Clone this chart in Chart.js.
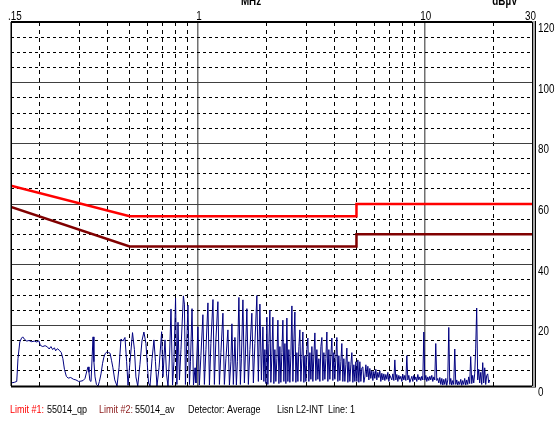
<!DOCTYPE html>
<html>
<head>
<meta charset="utf-8">
<script src="https://cdn.jsdelivr.net/npm/chart.js@4.4.1/dist/chart.umd.min.js"></script>
<style>
html,body{margin:0;padding:0;background:#fff;}
#wrap{width:557px;height:421px;position:relative;}
</style>
</head>
<body>
<div id="wrap"><canvas id="c" width="557" height="421"></canvas></div>
<script>
// ---- DATA ----
const xTickValues = [0.15,0.2,0.3,0.4,0.5,0.6,0.7,0.8,0.9,1,2,3,4,5,6,7,8,9,10,20,30];
const xTickLabels = {0.15:'.15', 1:'1', 10:'10', 30:'30'};
const yTickLabels = [0,20,40,60,80,100,120];

const qpFreq  = [0.15, 0.5, 5, 5, 30];
const qpLevel = [66, 56, 56, 60, 60];
const avFreq  = [0.15, 0.5, 5, 5, 30];
const avLevel = [59, 46, 46, 50, 50];

const specFreq = [
0.150,0.155,0.159,0.161,0.164,0.167,0.169,0.172,0.176,0.180,0.185,0.190,0.195,0.199,
0.202,0.207,0.212,0.217,0.221,0.225,0.229,0.233,0.236,0.240,0.245,0.250,0.254,0.258,
0.263,0.268,0.275,0.283,0.290,0.298,0.305,0.312,0.318,0.324,0.328,0.331,0.334,0.338,
0.342,0.345,0.348,0.352,0.357,0.363,0.368,0.374,0.380,0.385,0.391,0.397,0.404,0.410,
0.416,0.422,0.430,0.440,
0.449,0.458,0.467,0.477,0.485,0.492,0.502,0.515,0.525,0.533,0.543,0.555,0.567,0.578,
0.590,0.606,0.615,0.628,0.640,0.650,0.660,0.674,0.692,0.701,0.716,0.727,0.738,0.750,
0.761,0.773,0.784,0.797,0.808,0.817,0.829,0.842,0.863,0.872,0.881,
0.886,0.904,0.918,0.927,0.942,0.956,0.971,0.980,1.000,1.015,1.031,1.052,1.068,1.085,
1.107,1.124,1.141,1.165,1.182,1.200,1.225,1.244,1.263,1.289,1.308,1.329,1.356,1.377,
1.398,1.412,1.433,1.456,1.478,1.493,1.516,1.539,1.555,1.579,1.603,1.619,1.644,1.669,
1.695,1.729,1.756,1.783,1.819,1.847,1.876,1.905,1.934,1.953,
1.973,1.994,2.014,2.034,2.055,2.076,2.097,2.119,2.140,2.162,2.184,2.206,2.229,2.252,
2.275,2.298,2.321,2.345,2.369,2.393,2.418,2.442,2.467,2.492,2.518,2.543,2.569,2.596,
2.622,2.649,2.676,2.703,2.731,2.759,2.787,2.815,2.844,2.873,2.902,2.932,2.962,2.992,
3.022,3.053,3.084,3.116,3.148,3.180,3.212,3.245,3.278,3.311,3.345,3.379,3.414,3.449,
3.484,3.519,3.555,3.591,3.628,3.665,3.702,3.740,3.778,3.817,3.855,3.895,3.934,3.974,
4.015,4.056,4.097,4.139,4.181,4.224,4.267,4.310,4.354,4.399,4.444,4.489,4.535,4.581,
4.628,4.675,4.723,4.771,4.820,4.869,4.919,4.969,5.019,5.071,5.122,5.175,5.227,5.281,
5.335,5.389,
5.444,5.500,5.556,5.612,5.669,5.727,5.785,5.844,5.904,5.964,6.025,6.086,6.148,6.211,
6.274,6.338,6.403,6.468,6.534,6.601,6.668,6.736,6.805,6.874,6.944,7.015,7.159,7.232,
7.306,7.380,7.456,7.532,7.608,7.686,7.764,7.844,7.924,8.004,8.086,8.168,8.252,8.336,
8.421,8.507,8.593,8.770,8.859,8.950,9.041,9.133,9.226,9.320,9.415,9.511,9.608,9.706,
9.805,9.905,10.006,10.11,10.21,10.31,10.42,10.53,10.63,10.74,10.85,10.96,11.07,11.18,
11.30,11.41,11.53,11.65,11.77,11.89,12.01,12.13,12.25,12.38,12.50,12.63,12.76,12.89,
13.02,13.15,13.29,13.42,13.56,13.70,13.84,13.98,14.12,14.26,14.41,14.56,14.70,14.85,
15.00,15.16,15.31,15.47,15.62,15.78,15.94,16.11,16.27,16.44,16.60,16.77,16.94,17.12,
17.29,17.47,17.65,17.83,18.01,18.19,18.38,18.56,18.75,18.94,19.14,19.33
];
const specLevel = [
1.0,1.2,1.5,9.0,14.5,15.8,16.2,15.4,14.8,15.0,14.6,14.8,14.5,14.9,
13.4,13.0,13.3,12.9,12.2,13.0,12.0,12.6,11.6,12.3,11.8,11.0,9.0,5.5,
3.2,2.6,2.8,2.2,2.0,1.5,1.6,1.8,2.5,5.0,6.3,4.5,1.8,1.5,
10.0,16.2,8.0,3.0,0.5,0.0,1.5,4.0,7.5,9.5,10.8,11.2,11.0,10.8,
8.5,6.0,2.0,0.0,
6.0,15.5,14.8,16.0,8.0,0.2,8.0,17.6,12.0,3.0,0.0,7.0,15.0,17.8,
14.0,1.0,0.0,9.0,15.2,8.0,0.0,6.0,17.9,3.0,15.2,4.0,0.0,10.0,
25.4,0.3,8.0,29.0,0.5,21.0,2.0,12.0,29.7,27.0,0.5,
0.5,26.7,0.5,8.0,25.5,0.3,6.0,1.0,19.5,0.3,10.0,23.5,0.5,12.0,
27.4,0.3,14.0,28.5,0.5,15.0,27.8,0.5,11.0,24.0,0.5,9.0,18.5,0.3,
8.0,20.5,0.5,16.0,0.3,8.0,29.2,0.5,9.0,28.4,1.0,10.0,25.5,0.5,
12.0,24.0,1.0,14.0,29.8,1.5,27.0,2.0,19.5,1.5,
12.0,0.8,22.7,0.5,14.0,25.0,1.2,10.0,22.7,0.8,12.0,1.5,9.0,21.7,
0.8,13.0,1.2,11.0,21.7,1.5,14.0,0.8,22.4,1.5,12.0,1.2,10.0,26.4,
1.5,15.0,24.4,1.2,11.0,1.5,13.0,18.5,1.5,9.0,17.8,1.2,10.0,1.5,
12.0,15.8,1.5,11.0,2.2,13.0,1.5,10.0,17.5,1.8,12.0,2.2,9.0,1.5,
13.0,16.0,1.8,11.0,2.2,9.0,17.8,1.5,12.0,2.2,10.0,15.8,1.8,11.0,
2.2,9.0,16.0,1.5,10.0,1.8,8.0,14.0,1.5,9.0,1.5,7.0,12.5,1.2,
8.0,1.5,7.0,11.0,1.2,7.0,1.5,8.0,1.5,8.6,1.2,8.0,1.5,6.0,
6.3,1.2,
3.0,7.0,3.0,6.5,2.0,5.8,2.5,5.0,1.8,4.8,2.5,5.5,2.0,4.5,
2.8,5.0,1.5,4.2,2.0,4.0,1.8,3.8,2.2,4.5,1.5,3.5,2.0,4.0,
1.8,8.6,2.0,3.8,1.5,3.5,2.2,3.2,1.5,3.8,2.0,3.5,1.8,10.0,
2.0,3.5,1.2,3.2,1.5,3.5,2.0,3.0,1.5,3.8,2.0,3.0,1.8,3.2,
2.0,17.8,2.0,3.5,1.5,3.0,1.8,3.2,2.0,3.5,1.5,3.0,2.0,14.0,
1.8,2.5,1.0,2.8,0.5,2.5,0.3,2.2,0.5,2.5,0.2,2.0,19.3,0.5,
2.5,0.3,1.8,0.5,12.2,0.5,2.0,0.3,1.5,0.5,2.2,0.2,1.8,0.5,
2.5,0.3,2.0,0.5,3.0,0.8,9.7,0.8,3.5,1.0,4.0,12.5,25.7,2.0,
5.5,1.0,4.5,0.5,7.7,1.0,6.0,0.5,3.5,4.0,1.0,2.0
];

// ---- helpers ----
const pts = (xs, ys) => xs.map((x, i) => ({x: x, y: ys[i]}));
const FONT = "'Liberation Sans', Arial, sans-serif";
const SX = 0.82; // horizontal squeeze to mimic a narrow face

function txt(ctx, s, x, y, align, font, color) {
  ctx.save();
  ctx.font = font;
  ctx.fillStyle = color || '#000';
  ctx.textAlign = align;
  ctx.translate(x, y);
  ctx.scale(SX, 1);
  ctx.fillText(s, 0, 0);
  ctx.restore();
}

const framePlugin = {
  id: 'frame',
  afterDraw(chart) {
    const ctx = chart.ctx, a = chart.chartArea;
    const xs = chart.scales.x, ys = chart.scales.y;
    ctx.save();
    // frame
    ctx.strokeStyle = '#000';
    ctx.lineWidth = 2;
    ctx.beginPath(); ctx.moveTo(a.left, a.top); ctx.lineTo(a.right, a.top); ctx.stroke();
    ctx.beginPath(); ctx.moveTo(a.left, a.bottom + 0.5); ctx.lineTo(a.right + 3, a.bottom + 0.5); ctx.stroke();
    ctx.lineWidth = 1.5;
    ctx.beginPath(); ctx.moveTo(a.left + 0.25, a.top); ctx.lineTo(a.left + 0.25, a.bottom); ctx.stroke();
    ctx.fillStyle = '#a8a8a8';
    ctx.fillRect(a.right - 1, a.top - 1, 4, a.bottom - a.top + 2);
    ctx.strokeStyle = '#000';
    ctx.lineWidth = 1;
    ctx.beginPath(); ctx.moveTo(a.right - 0.5, a.top); ctx.lineTo(a.right - 0.5, a.bottom); ctx.stroke();
    ctx.beginPath(); ctx.moveTo(a.right + 2.5, a.top - 1); ctx.lineTo(a.right + 2.5, a.bottom + 1); ctx.stroke();
    ctx.restore();

    ctx.textBaseline = 'alphabetic';
    const f12 = '12px ' + FONT;
    // x labels (top)
    xTickValues.forEach(v => {
      const lab = xTickLabels[v];
      if (!lab) return;
      const px = xs.getPixelForValue(v);
      if (v === 0.15) txt(ctx, lab, px - 3, 20, 'left', f12);
      else if (v === 30) txt(ctx, lab, px + 3, 20, 'right', f12);
      else txt(ctx, lab, px + 1, 20, 'center', f12);
    });
    // y labels (right)
    yTickLabels.forEach(v => {
      const py = ys.getPixelForValue(v);
      txt(ctx, String(v), a.right + 5, py + 10, 'left', f12);
    });
    // axis titles (partly cut at top)
    const b12 = 'bold 12px ' + FONT;
    txt(ctx, 'MHz', 251, 5, 'center', b12);
    txt(ctx, 'dB\u00b5V', 505, 5, 'center', b12);

    // footer legend
    const f11 = '11px ' + FONT;
    const y = 413;
    const parts = [
      ['Limit #1:', '#ff0000', 10],
      ['55014_qp', '#000', 47],
      ['Limit #2:', '#8b1a1a', 99],
      ['55014_av', '#000', 135],
      ['Detector: Average', '#000', 188],
      ['Lisn L2-INT', '#000', 277],
      ['Line: 1', '#000', 328]
    ];
    parts.forEach(p => txt(ctx, p[0], p[2], y, 'left', f11, p[1]));
  }
};

new Chart(document.getElementById('c'), {
  type: 'scatter',
  data: {
    datasets: [
      { label: 'Limit #1', data: pts(qpFreq, qpLevel), showLine: true, borderColor: '#ff0000', borderWidth: 2.5, pointRadius: 0, tension: 0 },
      { label: 'Limit #2', data: pts(avFreq, avLevel), showLine: true, borderColor: '#800000', borderWidth: 2.5, pointRadius: 0, tension: 0 },
      { label: 'Average', data: pts(specFreq, specLevel), showLine: true, borderColor: '#000080', borderWidth: 1, pointRadius: 0, tension: 0 }
    ]
  },
  options: {
    responsive: false,
    animation: false,
    devicePixelRatio: 1,
    layout: { padding: { left: 11, right: 0, top: 0, bottom: 35 } },
    plugins: { legend: { display: false }, tooltip: { enabled: false }, title: { display: false } },
    scales: {
      x: {
        type: 'logarithmic',
        position: 'top',
        min: 0.15, max: 30,
        afterBuildTicks: s => { s.ticks = xTickValues.map(v => ({ value: v })); },
        afterFit: s => { s.height = 22; },
        ticks: { display: false, autoSkip: false, maxRotation: 0 },
        grid: {
          drawTicks: false,
          color: c => (c.tick && (c.tick.value === 1 || c.tick.value === 10)) ? '#707070' : '#000',
          lineWidth: c => (c.tick && (c.tick.value === 1 || c.tick.value === 10)) ? 1.5 : 1
        },
        border: { display: false, dash: c => (c.tick && (c.tick.value === 1 || c.tick.value === 10)) ? [] : [4, 4] }
      },
      y: {
        position: 'right',
        min: 0, max: 120,
        afterBuildTicks: s => { const t = []; for (let v = 0; v <= 120; v += 5) t.push({ value: v }); s.ticks = t; },
        afterFit: s => { s.width = 24; },
        ticks: { display: false, autoSkip: false },
        grid: {
          drawTicks: false,
          color: c => (c.tick && c.tick.value % 20 === 0) ? '#404040' : '#000',
          lineWidth: 1
        },
        border: { display: false, dash: c => (c.tick && c.tick.value % 20 === 0) ? [] : [3, 3] }
      }
    }
  },
  plugins: [framePlugin]
});
</script>
</body>
</html>
